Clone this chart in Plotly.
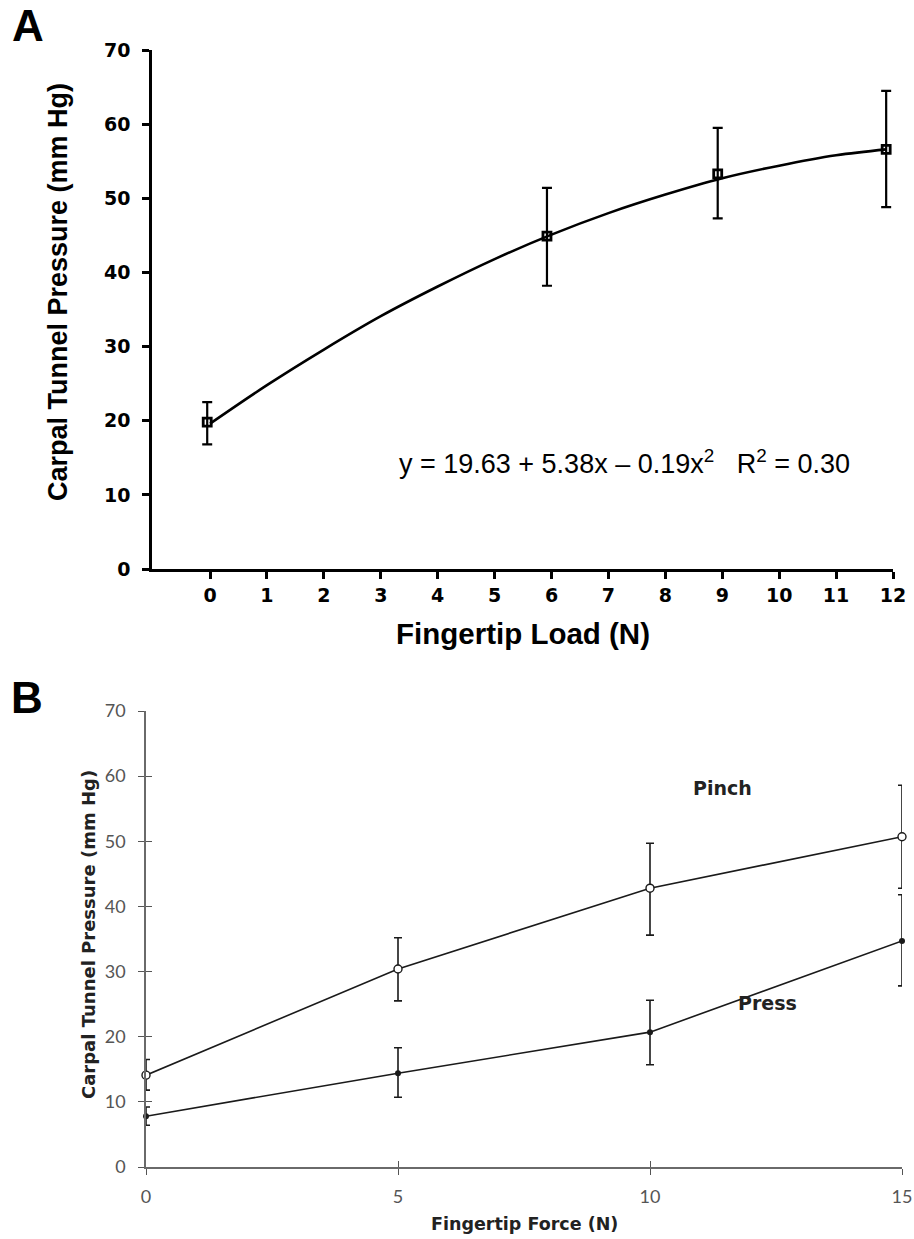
import plotly.graph_objects as go

W, H = 914, 1239

# ---------------- Data ----------------
# Panel A
a_x = [-0.05, 5.92, 8.92, 11.88]
a_y = [19.8, 44.9, 53.3, 56.6]
a_err_plus = [2.7, 6.5, 6.2, 7.9]
a_err_minus = [3.0, 6.7, 6.0, 7.8]
a_fit_x = [0, 1, 2, 3, 4, 5, 6, 7, 8, 9, 10, 11, 11.88]
a_fit_y = [19.6, 24.8, 29.6, 34.1, 38.1, 41.8, 45.1, 48.0, 50.5, 52.7, 54.4, 55.8, 56.6]
a_xticks = list(range(0, 13))
a_yticks = [0, 10, 20, 30, 40, 50, 60, 70]

# Panel B
b_x = [0, 5, 10, 15]
pinch_y = [14.1, 30.4, 42.8, 50.7]
pinch_plus = [2.4, 4.8, 6.9, 7.9]
pinch_minus = [2.3, 4.9, 7.2, 7.9]
press_y = [7.8, 14.4, 20.7, 34.7]
press_plus = [1.4, 3.9, 4.9, 7.1]
press_minus = [1.4, 3.7, 5.0, 6.9]
b_xticks = [0, 5, 10, 15]
b_yticks = [0, 10, 20, 30, 40, 50, 60, 70]


def px(x):
    return x / W


def py(y):
    return 1 - y / H


fig = go.Figure()

# Panel A fit curve
fig.add_trace(go.Scatter(x=a_fit_x, y=a_fit_y, mode="lines", line=dict(color="black", width=2.6, shape="spline"),
                         xaxis="x", yaxis="y", showlegend=False, hoverinfo="skip", cliponaxis=False))
# Panel A data
fig.add_trace(go.Scatter(x=a_x, y=a_y, mode="markers",
                         marker=dict(symbol="square-open", size=8, color="black", line=dict(width=2.8)),
                         error_y=dict(type="data", symmetric=False, array=a_err_plus, arrayminus=a_err_minus,
                                      color="black", thickness=2.2, width=5),
                         xaxis="x", yaxis="y", showlegend=False, cliponaxis=False))

# Panel B
fig.add_trace(go.Scatter(x=b_x, y=press_y, mode="lines+markers",
                         line=dict(color="#1a1a1a", width=1.6),
                         marker=dict(symbol="circle", size=6, color="#1a1a1a"),
                         error_y=dict(type="data", symmetric=False, array=press_plus, arrayminus=press_minus,
                                      color="#1a1a1a", thickness=1.6, width=4),
                         xaxis="x2", yaxis="y2", showlegend=False, cliponaxis=False))
fig.add_trace(go.Scatter(x=b_x, y=pinch_y, mode="lines+markers",
                         line=dict(color="#1a1a1a", width=1.6),
                         marker=dict(symbol="circle", size=8, color="white", line=dict(color="#1a1a1a", width=1.4)),
                         error_y=dict(type="data", symmetric=False, array=pinch_plus, arrayminus=pinch_minus,
                                      color="#1a1a1a", thickness=1.6, width=4),
                         xaxis="x2", yaxis="y2", showlegend=False, cliponaxis=False))

a_tick_font = dict(family="DejaVu Sans", size=19, color="black", weight="bold")
b_tick_font = dict(family="Lato", size=18, color="#555555")

fig.update_layout(
    width=W, height=H,
    margin=dict(l=0, r=0, t=0, b=0, autoexpand=False),
    paper_bgcolor="white", plot_bgcolor="white",
    xaxis=dict(domain=[px(152), px(893)], range=[-1.02, 12.0], anchor="y", automargin=False,
               tickmode="array", tickvals=a_xticks, ticks="outside", ticklen=7, tickwidth=2.5,
               tickcolor="black", showline=True, linecolor="black", linewidth=2.6,
               showgrid=False, zeroline=False, tickfont=a_tick_font),
    yaxis=dict(domain=[py(569), py(50)], range=[0, 70], anchor="x", automargin=False,
               tickmode="array", tickvals=a_yticks, ticks="outside", ticklen=7, tickwidth=2.5,
               tickcolor="black", showline=True, linecolor="black", linewidth=2.6, ticklabelstandoff=8,
               showgrid=False, zeroline=False, tickfont=a_tick_font),
    xaxis2=dict(domain=[px(146), px(902)], range=[0, 15], anchor="y2", automargin=False,
                tickmode="array", tickvals=b_xticks, ticks="outside", ticklen=6, tickwidth=1.4,
                tickcolor="#555555", showline=True, linecolor="#6a6a6a", linewidth=1.6, ticklabelstandoff=7,
                showgrid=False, zeroline=False, tickfont=b_tick_font),
    yaxis2=dict(domain=[py(1167), py(711)], range=[0, 70], anchor="x2", automargin=False,
                tickmode="array", tickvals=b_yticks, ticks="outside", ticklen=6, tickwidth=1.4,
                tickcolor="#555555", showline=True, linecolor="#6a6a6a", linewidth=1.6, ticklabelstandoff=9,
                showgrid=False, zeroline=False, tickfont=b_tick_font),
    # inside halves of the crossing ticks in panel B
    xaxis3=dict(domain=[px(146), px(902)], range=[0, 15], anchor="y2", overlaying="x2", automargin=False,
                tickmode="array", tickvals=b_xticks, ticks="inside", ticklen=6, tickwidth=1.4,
                tickcolor="#555555", showticklabels=False, showline=False, showgrid=False, zeroline=False),
    yaxis3=dict(domain=[py(1167), py(711)], range=[0, 70], anchor="x2", overlaying="y2", automargin=False,
                tickmode="array", tickvals=b_yticks, ticks="inside", ticklen=6, tickwidth=1.4,
                tickcolor="#555555", showticklabels=False, showline=False, showgrid=False, zeroline=False),
)

# dummy trace so the overlay axes are drawn
fig.add_trace(go.Scatter(x=[None], y=[None], xaxis="x3", yaxis="y3", showlegend=False, hoverinfo="skip"))


def label(text, x, y, font, angle=0):
    return dict(text=text, x=px(x), y=py(y), xref="paper", yref="paper", showarrow=False,
                xanchor="center", yanchor="middle", textangle=angle, font=font)


nb = "\u00a0"
ann = [
    label("<b>A</b>", 28, 26, dict(family="Liberation Sans", size=44, color="black")),
    label("<b>B</b>", 27, 697, dict(family="Liberation Sans", size=44, color="black")),
    label("<b>Carpal Tunnel Pressure (mm Hg)</b>", 58, 292,
          dict(family="Liberation Sans", size=27, color="black"), angle=-90),
    label("<b>Fingertip Load (N)</b>", 523, 633, dict(family="Liberation Sans", size=29.5, color="black")),
    label("y = 19.63 + 5.38x – 0.19x<sup>2</sup>" + nb * 3 + "R<sup>2</sup> = 0.30", 624, 462,
          dict(family="Liberation Sans", size=27, color="black")),
    label("<b>Carpal Tunnel Pressure (mm Hg)</b>", 88, 935,
          dict(family="DejaVu Sans", size=18, color="#222222"), angle=-90),
    label("<b>Fingertip Force (N)</b>", 524, 1224, dict(family="DejaVu Sans", size=17.5, color="#222222")),
    label("<b>Pinch</b>", 722, 788, dict(family="DejaVu Sans", size=19, color="#222222")),
    label("<b>Press</b>", 767, 1003, dict(family="DejaVu Sans", size=19, color="#222222")),
]

fig.update_layout(annotations=ann)

fig.write_html("out.html", config={"displayModeBar": False},
               post_script="document.body.style.margin='0';document.body.style.overflow='hidden';")
